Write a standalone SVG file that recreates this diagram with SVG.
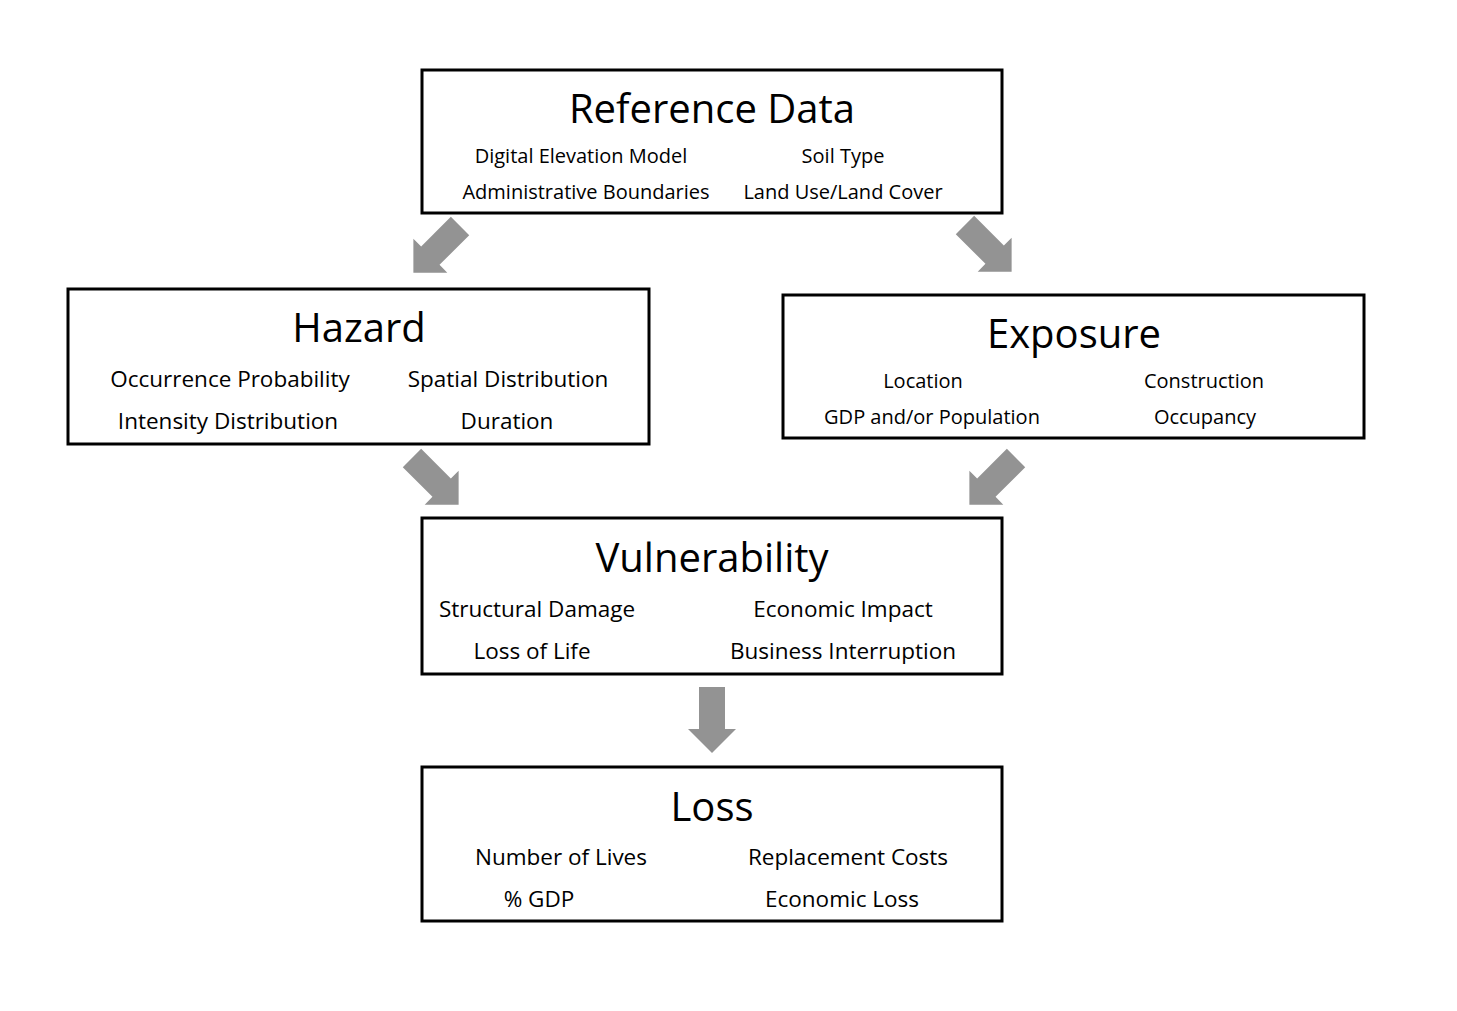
<svg xmlns="http://www.w3.org/2000/svg" width="1457" height="1011" viewBox="0 0 1457 1011">
<style>
.box{fill:#fff;stroke:#000;stroke-width:3}
.t{font-family:"Open Sans","Noto Sans",sans-serif;font-size:40px;text-anchor:middle;fill:#000}
.s{font-family:"Open Sans","Noto Sans",sans-serif;font-size:20px;text-anchor:middle;fill:#000}
.m{font-size:22.5px}
.a{fill:#939393}
</style>
<defs>
<polygon id="arr" points="-13,-34 13,-34 13,8 24,8 0,32 -24,8 -13,8"/>
</defs>
<rect width="1457" height="1011" fill="#fff"/>
<g id="connectors">
<use href="#arr" class="a" transform="translate(436,250) rotate(45)"/>
<use href="#arr" class="a" transform="translate(989,249) rotate(-45)"/>
<use href="#arr" class="a" transform="translate(436,482) rotate(-45)"/>
<use href="#arr" class="a" transform="translate(992,482) rotate(45)"/>
<use href="#arr" class="a" transform="translate(712,721)"/>
</g>
<g id="reference">
<rect class="box" x="422" y="70" width="580" height="143"/>
<text class="t" x="712" y="123">Reference Data</text>
<text class="s" x="581" y="163">Digital Elevation Model</text>
<text class="s" x="843" y="163">Soil Type</text>
<text class="s" x="586" y="199">Administrative Boundaries</text>
<text class="s" x="843" y="199">Land Use/Land Cover</text>
</g>
<g id="hazard">
<rect class="box" x="68" y="289" width="581" height="155"/>
<text class="t" x="359" y="342">Hazard</text>
<text class="s m" x="230" y="387">Occurrence Probability</text>
<text class="s m" x="508" y="387">Spatial Distribution</text>
<text class="s m" x="228" y="429">Intensity Distribution</text>
<text class="s m" x="507" y="429">Duration</text>
</g>
<g id="exposure">
<rect class="box" x="783" y="295" width="581" height="143"/>
<text class="t" x="1074" y="348">Exposure</text>
<text class="s" x="923" y="388">Location</text>
<text class="s" x="1204" y="388">Construction</text>
<text class="s" x="932" y="424">GDP and/or Population</text>
<text class="s" x="1205" y="424">Occupancy</text>
</g>
<g id="vulnerability">
<rect class="box" x="422" y="518" width="580" height="156"/>
<text class="t" x="712" y="572">Vulnerability</text>
<text class="s m" x="537" y="617">Structural Damage</text>
<text class="s m" x="843" y="617">Economic Impact</text>
<text class="s m" x="532" y="659">Loss of Life</text>
<text class="s m" x="843" y="659">Business Interruption</text>
</g>
<g id="loss">
<rect class="box" x="422" y="767" width="580" height="154"/>
<text class="t" x="712" y="821">Loss</text>
<text class="s m" x="561" y="865">Number of Lives</text>
<text class="s m" x="848" y="865">Replacement Costs</text>
<text class="s m" x="539" y="907">% GDP</text>
<text class="s m" x="842" y="907">Economic Loss</text>
</g>
</svg>
